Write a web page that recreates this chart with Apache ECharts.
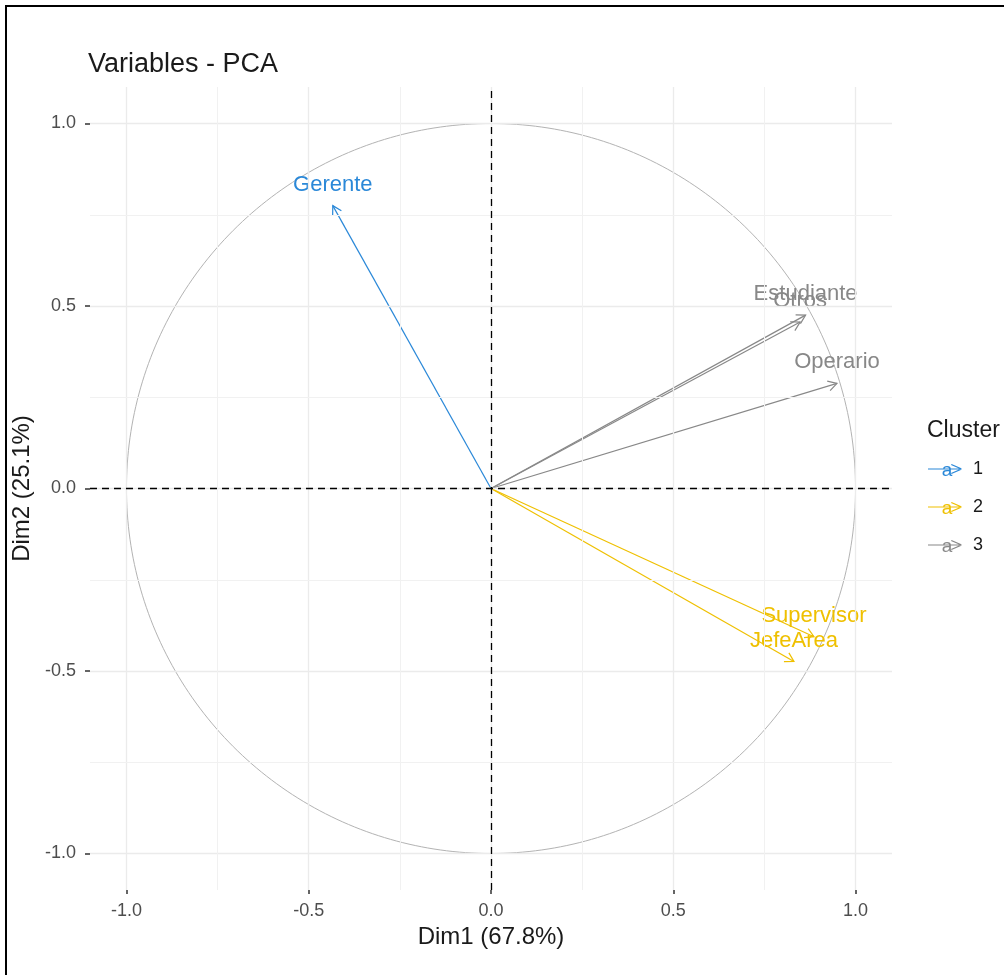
<!DOCTYPE html>
<html>
<head>
<meta charset="utf-8">
<script src="https://cdn.jsdelivr.net/npm/echarts@6/dist/echarts.min.js"></script>
<style>
  html, body { margin: 0; padding: 0; background: #fff; }
  #chart { width: 1004px; height: 975px; }
</style>
</head>
<body>
<div id="chart"></div>
<script>
// ---- data ----
const variableNames = ['Gerente', 'Estudiante', 'Otros', 'Operario', 'Supervisor', 'JefeArea'];
const dim1Values = [-0.434, 0.863, 0.848, 0.949, 0.886, 0.831];
const dim2Values = [0.775, 0.475, 0.456, 0.288, -0.406, -0.474];
const clusterOf = ['1', '3', '3', '3', '2', '2'];
const clusterNames = ['1', '2', '3'];
const clusterColors = ['#2A88D8', '#EFC000', '#888888'];
const tickValues = [-1, -0.5, 0, 0.5, 1];
const minorGridValues = [-0.75, -0.25, 0.25, 0.75];
const axisRange = [-1.1, 1.1];
const xTitle = 'Dim1 (67.8%)';
const yTitle = 'Dim2 (25.1%)';
const chartTitle = 'Variables - PCA';
const legendTitle = 'Cluster';

const FONT = '"Liberation Sans", Arial, Helvetica, sans-serif';

const chart = echarts.init(document.getElementById('chart'), null, { renderer: 'canvas' });

function gridMarkLines() {
  const d = [];
  tickValues.forEach(v => {
    d.push({ xAxis: v, lineStyle: { color: '#ebebeb', width: 1.3, type: 'solid' } });
    d.push({ yAxis: v, lineStyle: { color: '#ebebeb', width: 1.3, type: 'solid' } });
  });
  minorGridValues.forEach(v => {
    d.push({ xAxis: v, lineStyle: { color: '#f1f1f1', width: 1, type: 'solid' } });
    d.push({ yAxis: v, lineStyle: { color: '#f1f1f1', width: 1, type: 'solid' } });
  });
  return d;
}

function arrowSeries(cl, ci) {
  const idx = [];
  variableNames.forEach((n, i) => { if (clusterOf[i] === cl) idx.push(i); });
  const color = clusterColors[ci];
  return {
    name: cl,
    type: 'custom',
    coordinateSystem: 'cartesian2d',
    z: 4,
    silent: true,
    itemStyle: { color: color },
    data: idx.map(i => ({ name: variableNames[i], value: [dim1Values[i], dim2Values[i]] })),
    renderItem: function (params, api) {
      const i = idx[params.dataIndex];
      const p0 = api.coord([0, 0]);
      const p1 = api.coord([api.value(0), api.value(1)]);
      const ang = Math.atan2(p1[1] - p0[1], p1[0] - p0[0]);
      const L = 10, A = Math.PI / 6;
      const b1 = [p1[0] - L * Math.cos(ang - A), p1[1] - L * Math.sin(ang - A)];
      const b2 = [p1[0] - L * Math.cos(ang + A), p1[1] - L * Math.sin(ang + A)];
      return {
        type: 'group',
        children: [
          { type: 'line', shape: { x1: p0[0], y1: p0[1], x2: p1[0], y2: p1[1] },
            style: { stroke: color, lineWidth: 1.2 } },
          { type: 'polyline', shape: { points: [b1, p1, b2] },
            style: { stroke: color, lineWidth: 1.2, fill: null } },
          { type: 'text', z2: 10,
            style: { text: variableNames[i], x: p1[0], y: p1[1] - 21,
              align: 'center', verticalAlign: 'middle',
              fill: color, font: '22px ' + FONT } }
        ]
      };
    }
  };
}

const legendKeyA = clusterNames.map((c, k) => ({
  type: 'text', x: 947, y: 471 + k * 38, z: 100, silent: true,
  style: { text: 'a', fill: clusterColors[k], font: '19px ' + FONT, align: 'center', verticalAlign: 'middle' }
}));

const option = {
  backgroundColor: '#ffffff',
  animation: false,
  title: [
    { text: chartTitle, left: 88, top: 51, padding: 0,
      textStyle: { fontFamily: FONT, fontSize: 27, fontWeight: 'normal', color: '#1a1a1a' } },
    { text: legendTitle, left: 927, top: 419, padding: 0,
      textStyle: { fontFamily: FONT, fontSize: 23, fontWeight: 'normal', color: '#1a1a1a' } }
  ],
  legend: {
    data: clusterNames,
    orient: 'vertical',
    left: 928, top: 459, padding: 0,
    itemWidth: 34, itemHeight: 12, itemGap: 18,
    icon: 'path://M0,5.4 L33,5.4 L33,6.6 L0,6.6 Z M23.6,0.9 L34,5.5 L33.4,6.6 L23,2.0 Z M23.6,11.1 L34,6.5 L33.4,5.4 L23,10.0 Z',
    selectedMode: false,
    textStyle: { fontFamily: FONT, fontSize: 18, color: '#1a1a1a', lineHeight: 20, padding: [0, 0, 0, 6] }
  },
  graphic: [
    { type: 'rect', shape: { x: 6, y: 6, width: 1100, height: 1100 },
      style: { fill: null, stroke: '#000', lineWidth: 2 }, z: 200, silent: true }
  ].concat(legendKeyA),
  grid: { left: 90, right: 112, top: 87, bottom: 85, containLabel: false },
  xAxis: {
    type: 'value', min: axisRange[0], max: axisRange[1],
    name: xTitle, nameLocation: 'middle', nameGap: 35,
    nameTextStyle: { fontFamily: FONT, fontSize: 24, color: '#1a1a1a' },
    axisLine: { show: false, onZero: false },
    splitLine: { show: false },
    axisTick: { show: true, length: 4, inside: false, customValues: tickValues,
      lineStyle: { color: '#333', width: 1.5 } },
    axisLabel: { customValues: tickValues, margin: 12, fontFamily: FONT, fontSize: 18, color: '#4d4d4d',
      formatter: v => Number(v).toFixed(1) }
  },
  yAxis: {
    type: 'value', min: axisRange[0], max: axisRange[1],
    name: yTitle, nameLocation: 'middle', nameGap: 45, nameRotate: 90,
    nameTextStyle: { fontFamily: FONT, fontSize: 24, color: '#1a1a1a' },
    axisLine: { show: false, onZero: false },
    splitLine: { show: false },
    axisTick: { show: true, length: 5, inside: false, customValues: tickValues,
      lineStyle: { color: '#333', width: 1.5 } },
    axisLabel: { customValues: tickValues, margin: 14, fontFamily: FONT, fontSize: 18, color: '#4d4d4d',
      formatter: v => Number(v).toFixed(1) }
  },
  series: [
    {
      name: 'grid', type: 'line', data: [], z: 1, silent: true,
      markLine: { silent: true, symbol: 'none', label: { show: false }, animation: false,
        data: gridMarkLines() }
    },
    {
      name: 'circle', type: 'custom', coordinateSystem: 'cartesian2d', z: 2, silent: true,
      data: [[0, 0]],
      renderItem: function (params, api) {
        const pts = [];
        for (let k = 0; k <= 360; k++) {
          const t = k * Math.PI / 180;
          pts.push(api.coord([Math.cos(t), Math.sin(t)]));
        }
        return { type: 'polyline', shape: { points: pts },
          style: { stroke: '#b3b3b3', lineWidth: 1, fill: null } };
      }
    },
    {
      name: 'zero', type: 'line', data: [], z: 3, silent: true,
      markLine: { silent: true, symbol: 'none', label: { show: false }, animation: false,
        lineStyle: { color: '#000', width: 1.3, type: [7, 5] },
        data: [{ xAxis: 0 }, { yAxis: 0 }] }
    }
  ].concat(clusterNames.map((c, k) => arrowSeries(c, k)))
};

chart.setOption(option);
</script>
</body>
</html>
